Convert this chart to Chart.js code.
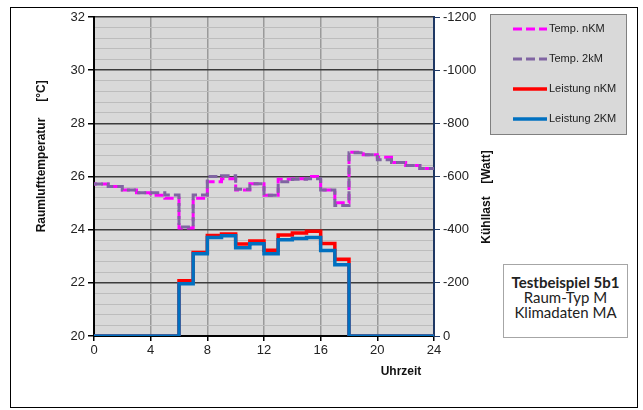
<!DOCTYPE html>
<html>
<head>
<meta charset="utf-8">
<script src="https://cdn.jsdelivr.net/npm/chart.js@4.4.0/dist/chart.umd.min.js"></script>
<style>
html, body { margin: 0; padding: 0; background: #fff; }
#wrap { position: relative; width: 643px; height: 410px; }
#frame { position: absolute; left: 10px; top: 7px; width: 628px; height: 401px; border: 1px solid #000; box-sizing: border-box; pointer-events: none; }
#info { position: absolute; left: 503px; top: 264px; width: 125px; height: 74px; border: 1px solid #a6a6a6; background: #fff; box-sizing: border-box;
        font-family: Lato, "Open Sans", sans-serif; font-size: 15px; color: #222; text-align: center; line-height: 15px; padding-top: 10px; }
#info b { font-weight: bold; }
</style>
</head>
<body>
<div id="wrap">
  <canvas id="myChart" width="643" height="410"></canvas>
  <div id="frame"></div>
  <div id="info"><b>Testbeispiel 5b1</b><br>Raum-Typ M<br>Klimadaten MA</div>
</div>
<script>
// hours of the day (last point closes the final step)
const hours = [0,1,2,3,4,5,6,7,8,9,10,11,12,13,14,15,16,17,18,19,20,21,22,23,24];

// room air temperature [°C], one value per hour
const tempNKM = [25.72,25.62,25.49,25.39,25.29,25.18,24.06,25.18,25.80,25.92,25.49,25.73,
                 25.29,25.90,25.92,26.00,25.49,25.01,26.91,26.82,26.72,26.53,26.41,26.30];
const temp2KM = [25.72,25.62,25.49,25.39,25.39,25.30,24.10,25.30,26.00,26.03,25.52,25.73,
                 25.29,25.80,25.90,25.92,25.49,24.91,26.89,26.82,26.63,26.53,26.41,26.30];

// cooling load [Watt], one value per hour
const loadNKM = [0,0,0,0,0,0,-208,-314,-378,-384,-346,-357,
                 -323,-380,-387,-394,-348,-289,0,0,0,0,0,0];
const load2KM = [0,0,0,0,0,0,-197,-309,-371,-377,-332,-347,
                 -309,-362,-367,-371,-322,-268,0,0,0,0,0,0];

const tempTicks = [20,22,24,26,28,30,32];
const loadTicks = [0,-200,-400,-600,-800,-1000,-1200];

function steps(arr) {
  return hours.map((h, i) => ({ x: h, y: arr[Math.min(i, arr.length - 1)] }));
}

function isMajor(v) {
  return tempTicks.some(t => Math.abs(t - v) < 1e-6);
}

Chart.defaults.font.family = '"Liberation Sans", Arial, sans-serif';
Chart.defaults.font.size = 13;
Chart.defaults.color = '#222';

const decor = {
  id: 'decor',
  beforeDraw(chart) {
    const { ctx, chartArea: a } = chart;
    ctx.save();
    ctx.fillStyle = '#d9d9d9';
    ctx.fillRect(a.left, a.top, a.right - a.left, a.bottom - a.top);
    ctx.restore();
  },
  afterDraw(chart) {
    const ctx = chart.ctx;
    ctx.save();
    // axis titles
    ctx.fillStyle = '#111';
    ctx.font = 'bold 12px "Liberation Sans", Arial, sans-serif';
    ctx.textAlign = 'center';
    ctx.textBaseline = 'middle';
    ctx.fillText('Uhrzeit', 401, 372);

    ctx.save();
    ctx.translate(42, 0);
    ctx.rotate(-Math.PI / 2);
    ctx.fillText('Raumlufttemperatur', -175, 0);
    ctx.fillText('[°C]', -91, 0);
    ctx.restore();

    ctx.save();
    ctx.translate(487, 0);
    ctx.rotate(-Math.PI / 2);
    ctx.fillText('Kühllast', -220, 0);
    ctx.fillText('[Watt]', -167, 0);
    ctx.restore();

    // legend box
    ctx.fillStyle = '#d9d9d9';
    ctx.fillRect(490.5, 14.5, 136, 120);
    ctx.strokeStyle = '#808080';
    ctx.lineWidth = 1;
    ctx.strokeRect(490.5, 14.5, 136, 120);

    ctx.font = '11px "Liberation Sans", Arial, sans-serif';
    ctx.textAlign = 'left';
    const rows = [29, 59, 89, 119];
    chart.data.datasets.forEach((ds, i) => {
      const y = rows[i];
      ctx.beginPath();
      ctx.strokeStyle = ds.borderColor;
      ctx.lineWidth = ds.borderWidth;
      ctx.setLineDash(ds.borderDash || []);
      ctx.moveTo(513, y);
      ctx.lineTo(547, y);
      ctx.stroke();
      ctx.setLineDash([]);
      ctx.fillStyle = '#222';
      ctx.fillText(ds.label, 549, y);
    });
    ctx.restore();
  }
};

const ctx = document.getElementById('myChart').getContext('2d');
const chart = new Chart(ctx, {
  type: 'line',
  data: {
    datasets: [
      { label: 'Temp. nKM', data: steps(tempNKM), yAxisID: 'y', borderColor: '#ff00ff', borderWidth: 3,
        borderDash: [9, 4], borderDashOffset: 6, stepped: true, order: 4 },
      { label: 'Temp. 2kM', data: steps(temp2KM), yAxisID: 'y', borderColor: '#8064a2', borderWidth: 3,
        borderDash: [9, 4], stepped: true, order: 3 },
      { label: 'Leistung nKM', data: steps(loadNKM), yAxisID: 'y2', borderColor: '#ff0000', borderWidth: 3.5,
        stepped: true, order: 2 },
      { label: 'Leistung 2KM', data: steps(load2KM), yAxisID: 'y2', borderColor: '#0070c0', borderWidth: 3.5,
        stepped: true, order: 1 }
    ]
  },
  options: {
    responsive: false,
    animation: false,
    layout: { padding: { top: 17, left: 0, right: 0, bottom: 0 } },
    elements: { point: { radius: 0 }, line: { tension: 0 } },
    plugins: { legend: { display: false }, tooltip: { enabled: false } },
    scales: {
      x: {
        type: 'linear', min: 0, max: 24,
        ticks: { stepSize: 4, padding: 2, maxRotation: 0 },
        grid: { color: '#9a9a9a', lineWidth: 1.5, tickLength: 5, tickColor: '#000' },
        border: { color: '#000', width: 2 },
        afterFit(s) { s.height = 74; }
      },
      y: {
        position: 'left', min: 20, max: 32,
        ticks: {
          stepSize: 0.4, autoSkip: false, padding: 3,
          callback: v => isMajor(v) ? Math.round(v) : ''
        },
        grid: {
          color: c => isMajor(c.tick.value) ? '#3c3c3c' : '#bdbdbd',
          lineWidth: c => isMajor(c.tick.value) ? 1.5 : 1,
          tickColor: c => isMajor(c.tick.value) ? '#000' : 'rgba(0,0,0,0)',
          tickLength: 6
        },
        border: { color: '#000', width: 2 },
        afterFit(s) { s.width = 94; }
      },
      y2: {
        position: 'right', min: -1200, max: 0, reverse: true,
        ticks: { stepSize: 200, padding: 3, callback: v => String(v) },
        afterBuildTicks(s) { s.ticks = loadTicks.map(v => ({ value: v })); },
        grid: { drawOnChartArea: false, tickColor: '#1f3864', tickLength: 6 },
        border: { color: '#1f3864', width: 2 },
        afterFit(s) { s.width = 209; }
      }
    }
  },
  plugins: [decor]
});
</script>
</body>
</html>
